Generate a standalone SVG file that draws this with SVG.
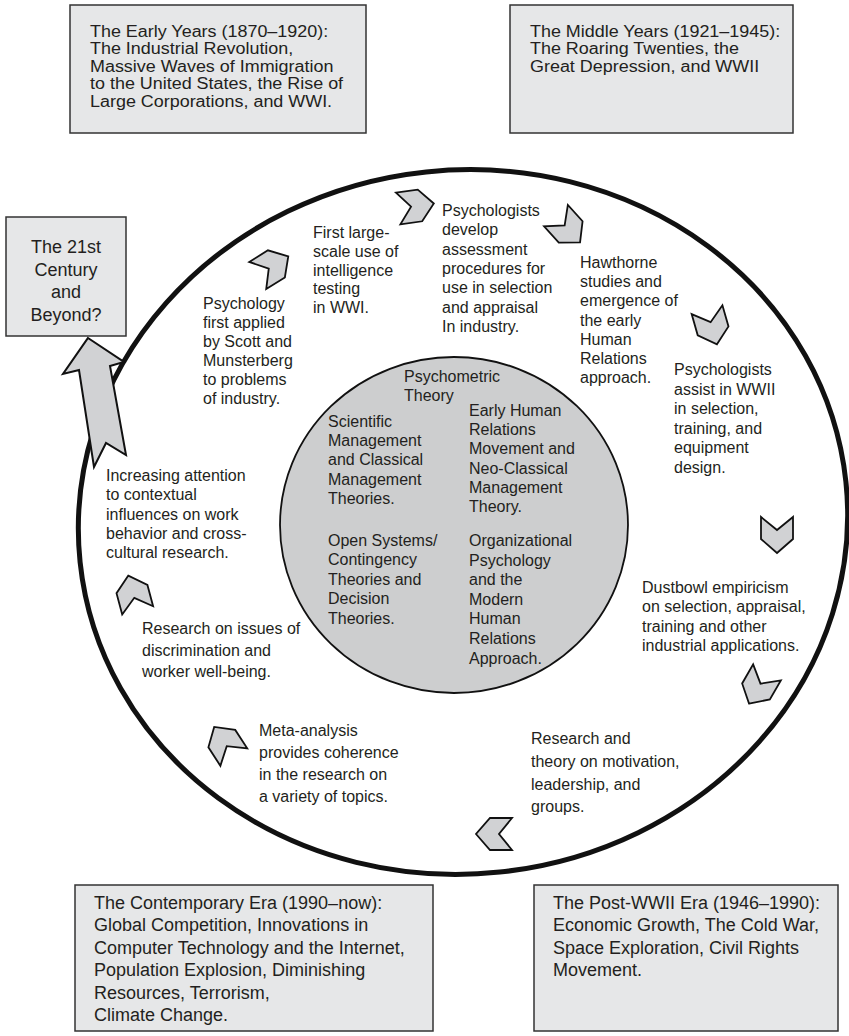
<svg xmlns="http://www.w3.org/2000/svg" width="849" height="1036" viewBox="0 0 849 1036">
<style>
text{font-family:"Liberation Sans",Arial,Helvetica,sans-serif;fill:#231f20}
.box{fill:#e6e7e8;stroke:#333;stroke-width:1.5}
.t18{font-size:18px}
.t16{font-size:16px}
.tb{font-size:15.6px}
.chev{fill:#d1d2d4;stroke:#111;stroke-width:1.8;stroke-linejoin:miter}
</style>
<defs>
<path id="chev" d="M18,0 L4,-16 L-18,-16 L-5,0 L-18,16 L4,16 Z"/>
</defs>
<rect width="849" height="1036" fill="#fff"/>

<g id="ellipse-outer">
<ellipse cx="463" cy="522" rx="385" ry="352" transform="rotate(-6 463 522)" fill="none" stroke="#111" stroke-width="5"/>
</g>
<g id="inner-circle">
<ellipse cx="454" cy="525" rx="174" ry="168" fill="#cdcecf" stroke="#111" stroke-width="1.8"/>
<text class="t16" x="404" y="382">Psychometric<tspan x="404" dy="19">Theory</tspan></text>
<text class="t16" x="328" y="427">Scientific<tspan x="328" dy="19.2">Management</tspan><tspan x="328" dy="19.2">and Classical</tspan><tspan x="328" dy="19.2">Management</tspan><tspan x="328" dy="19.2">Theories.</tspan></text>
<text class="t16" x="469" y="416">Early Human<tspan x="469" dy="19.2">Relations</tspan><tspan x="469" dy="19.2">Movement and</tspan><tspan x="469" dy="19.2">Neo-Classical</tspan><tspan x="469" dy="19.2">Management</tspan><tspan x="469" dy="19.2">Theory.</tspan></text>
<text class="t16" x="328" y="546">Open Systems/<tspan x="328" dy="19.4">Contingency</tspan><tspan x="328" dy="19.4">Theories and</tspan><tspan x="328" dy="19.4">Decision</tspan><tspan x="328" dy="19.4">Theories.</tspan></text>
<text class="t16" x="469" y="546">Organizational<tspan x="469" dy="19.6">Psychology</tspan><tspan x="469" dy="19.6">and the</tspan><tspan x="469" dy="19.6">Modern</tspan><tspan x="469" dy="19.6">Human</tspan><tspan x="469" dy="19.6">Relations</tspan><tspan x="469" dy="19.6">Approach.</tspan></text>
</g>

<g id="box-early">
<rect class="box" x="70" y="5" width="296" height="128"/>
<text class="tb" transform="translate(90,0) scale(1.15,1)" x="0" y="37">The Early Years (1870–1920):<tspan x="0" dy="17.4">The Industrial Revolution,</tspan><tspan x="0" dy="17.4">Massive Waves of Immigration</tspan><tspan x="0" dy="17.4">to the United States, the Rise of</tspan><tspan x="0" dy="17.4">Large Corporations, and WWI.</tspan></text>
</g>
<g id="box-middle">
<rect class="box" x="510" y="5" width="283" height="128"/>
<text class="tb" transform="translate(530,0) scale(1.15,1)" x="0" y="37">The Middle Years (1921–1945):<tspan x="0" dy="17.4">The Roaring Twenties, the</tspan><tspan x="0" dy="17.4">Great Depression, and WWII</tspan></text>
</g>
<g id="box-21st">
<rect class="box" x="6" y="217" width="120" height="119"/>
<text class="t18" text-anchor="middle" x="66" y="253">The 21st<tspan x="66" dy="22.5">Century</tspan><tspan x="66" dy="22.5">and</tspan><tspan x="66" dy="22.5">Beyond?</tspan></text>
</g>
<g id="box-contemporary">
<rect class="box" x="75" y="885" width="358" height="146"/>
<text class="t18" x="94" y="909">The Contemporary Era (1990–now):<tspan x="94" dy="22.4">Global Competition, Innovations in</tspan><tspan x="94" dy="22.4">Computer Technology and the Internet,</tspan><tspan x="94" dy="22.4">Population Explosion, Diminishing</tspan><tspan x="94" dy="22.4">Resources, Terrorism,</tspan><tspan x="94" dy="22.4">Climate Change.</tspan></text>
</g>
<g id="box-postwar">
<rect class="box" x="534" y="885" width="304" height="146"/>
<text class="t18" x="553" y="909">The Post-WWII Era (1946–1990):<tspan x="553" dy="22.4">Economic Growth, The Cold War,</tspan><tspan x="553" dy="22.4">Space Exploration, Civil Rights</tspan><tspan x="553" dy="22.4">Movement.</tspan></text>
</g>

<g id="labels">
<text class="t16" x="203" y="309">Psychology<tspan x="203" dy="19">first applied</tspan><tspan x="203" dy="19">by Scott and</tspan><tspan x="203" dy="19">Munsterberg</tspan><tspan x="203" dy="19">to problems</tspan><tspan x="203" dy="19">of industry.</tspan></text>
<text class="t16" x="313" y="238">First large-<tspan x="313" dy="18.8">scale use of</tspan><tspan x="313" dy="18.8">intelligence</tspan><tspan x="313" dy="18.8">testing</tspan><tspan x="313" dy="18.8">in WWI.</tspan></text>
<text class="t16" x="442" y="216">Psychologists<tspan x="442" dy="19.3">develop</tspan><tspan x="442" dy="19.3">assessment</tspan><tspan x="442" dy="19.3">procedures for</tspan><tspan x="442" dy="19.3">use in selection</tspan><tspan x="442" dy="19.3">and appraisal</tspan><tspan x="442" dy="19.3">In industry.</tspan></text>
<text class="t16" x="580" y="268">Hawthorne<tspan x="580" dy="19.2">studies and</tspan><tspan x="580" dy="19.2">emergence of</tspan><tspan x="580" dy="19.2">the early</tspan><tspan x="580" dy="19.2">Human</tspan><tspan x="580" dy="19.2">Relations</tspan><tspan x="580" dy="19.2">approach.</tspan></text>
<text class="t16" x="674" y="375">Psychologists<tspan x="674" dy="19.6">assist in WWII</tspan><tspan x="674" dy="19.6">in selection,</tspan><tspan x="674" dy="19.6">training, and</tspan><tspan x="674" dy="19.6">equipment</tspan><tspan x="674" dy="19.6">design.</tspan></text>
<text class="t16" x="642" y="593">Dustbowl empiricism<tspan x="642" dy="19.4">on selection, appraisal,</tspan><tspan x="642" dy="19.4">training and other</tspan><tspan x="642" dy="19.4">industrial applications.</tspan></text>
<text class="t16" x="531" y="744">Research and<tspan x="531" dy="22.8">theory on motivation,</tspan><tspan x="531" dy="22.8">leadership, and</tspan><tspan x="531" dy="22.8">groups.</tspan></text>
<text class="t16" x="259" y="736">Meta-analysis<tspan x="259" dy="22">provides coherence</tspan><tspan x="259" dy="22">in the research on</tspan><tspan x="259" dy="22">a variety of topics.</tspan></text>
<text class="t16" x="142" y="634">Research on issues of<tspan x="142" dy="21.6">discrimination and</tspan><tspan x="142" dy="21.6">worker well-being.</tspan></text>
<text class="t16" x="106" y="481">Increasing attention<tspan x="106" dy="19.3">to contextual</tspan><tspan x="106" dy="19.3">influences on work</tspan><tspan x="106" dy="19.3">behavior and cross-</tspan><tspan x="106" dy="19.3">cultural research.</tspan></text>
</g>

<g id="connectors">
<use href="#chev" class="chev" transform="translate(273,266) rotate(-32)"/>
<use href="#chev" class="chev" transform="translate(416,206) rotate(-8)"/>
<use href="#chev" class="chev" transform="translate(568,229) rotate(48)"/>
<use href="#chev" class="chev" transform="translate(712,327) rotate(74)"/>
<use href="#chev" class="chev" transform="translate(777,535) rotate(90)"/>
<use href="#chev" class="chev" transform="translate(758,688) rotate(120)"/>
<use href="#chev" class="chev" transform="translate(494,834) rotate(180)"/>
<use href="#chev" class="chev" transform="translate(224,742) rotate(-123)"/>
<use href="#chev" class="chev" transform="translate(133,593) rotate(-105)"/>
<polygon points="88,338 124,362 110,366 126,455 106,443 94,467 79,370 63,374" fill="#d1d2d4" stroke="#111" stroke-width="2" stroke-linejoin="miter"/>
</g>
</svg>
